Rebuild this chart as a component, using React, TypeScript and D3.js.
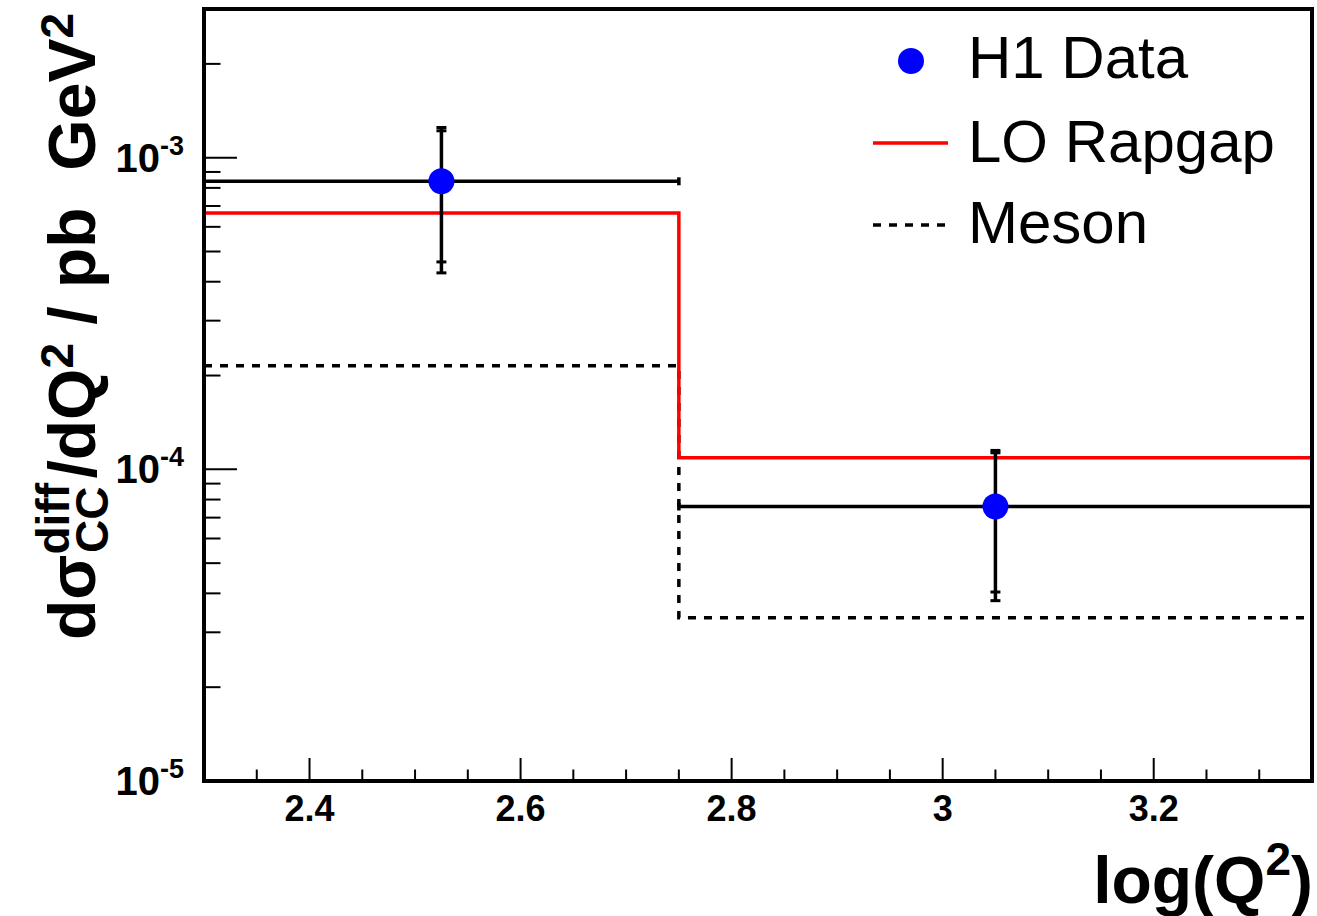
import React from 'react';
import * as d3 from 'd3';

// ---- data ----
const binEdges = [2.3, 2.75, 3.35];
const dataX = [2.525, 3.05];
const dataY = [8.4e-4, 7.6e-5];
const statLow = [4.63e-4, 4.04e-5];
const statHigh = [1.22e-3, 1.13e-4];
const totLow = [4.27e-4, 3.79e-5];
const totHigh = [1.25e-3, 1.15e-4];
const rapgap = [6.65e-4, 1.09e-4];
const meson = [2.15e-4, 3.34e-5];
const xTicks = [2.4, 2.6, 2.8, 3.0, 3.2];
const xTickLabels = ['2.4', '2.6', '2.8', '3', '3.2'];
const yDecades = [-5, -4, -3];

const W = 1317, H = 916;
const L = 204, R = 1312, T = 9, B = 781;
const FONT = "'Liberation Sans', Arial, Helvetica, sans-serif";

export default function App() {
  const x = d3.scaleLinear().domain([2.3, 3.35]).range([L, R]);
  const y = d3.scaleLog().domain([1e-5, 3e-3]).range([B, T]);

  const stepLine = (vals: number[]) =>
    d3.line<[number, number]>()
      .x(d => x(d[0]))
      .y(d => y(d[1]))
      .curve(d3.curveStepAfter)([
        [binEdges[0], vals[0]],
        [binEdges[1], vals[1]],
        [binEdges[2], vals[1]],
      ]) as string;

  const xMinor: number[] = d3.range(2.35, 3.35, 0.05).map(v => +v.toFixed(2));
  const yMinor: number[] = [];
  for (const dec of yDecades) {
    for (let m = 2; m <= 9; m++) {
      const v = m * Math.pow(10, dec);
      if (v <= 3e-3) yMinor.push(v);
    }
  }

  const capW = 5;
  const tf = 66; // y title font
  const sf = 46; // script font
  return (
    <svg width={W} height={H} style={{ position: 'absolute', left: 0, top: 0, background: '#fff' }}
      fontFamily={FONT}>
      <rect x={0} y={0} width={W} height={H} fill="#fff" />
      <path d={stepLine(meson)} fill="none" stroke="#000" strokeWidth={3.5} strokeDasharray="8,8" />
      <path d={stepLine(rapgap)} fill="none" stroke="#ff0000" strokeWidth={3.5} />
      {dataX.map((dx, i) => {
        const cx = x(dx);
        const cy = y(dataY[i]);
        const x0 = x(binEdges[i]);
        const x1 = x(binEdges[i + 1]);
        return (
          <g key={i} stroke="#000" strokeWidth={3.5}>
            <line x1={x0} x2={x1} y1={cy} y2={cy} />
            <line x1={x0} x2={x0} y1={cy - 4} y2={cy + 4} />
            <line x1={x1} x2={x1} y1={cy - 4} y2={cy + 4} />
            <line x1={cx} x2={cx} y1={y(totHigh[i])} y2={y(totLow[i])} />
            {[statLow[i], statHigh[i], totLow[i], totHigh[i]].map((v, k) => (
              <line key={k} x1={cx - capW} x2={cx + capW} y1={y(v)} y2={y(v)} strokeWidth={3} />
            ))}
          </g>
        );
      })}
      {dataX.map((dx, i) => (
        <circle key={'m' + i} cx={x(dx)} cy={y(dataY[i])} r={13} fill="#0000ff" />
      ))}
      <rect x={L} y={T} width={R - L} height={B - T} fill="none" stroke="#000" strokeWidth={4} />
      {xTicks.map(t => (
        <line key={'xt' + t} x1={x(t)} x2={x(t)} y1={B} y2={B - 23} stroke="#000" strokeWidth={2} />
      ))}
      {xMinor.filter(t => !xTicks.some(m => Math.abs(m - t) < 1e-6)).map(t => (
        <line key={'xm' + t} x1={x(t)} x2={x(t)} y1={B} y2={B - 11.5} stroke="#000" strokeWidth={2} />
      ))}
      {xTicks.map((t, i) => (
        <text key={'xl' + t} x={x(t)} y={B + 40} textAnchor="middle" fontSize={36} fontWeight="bold">
          {xTickLabels[i]}
        </text>
      ))}
      {yDecades.map(d => (
        <line key={'yt' + d} x1={L} x2={L + 33} y1={y(Math.pow(10, d))} y2={y(Math.pow(10, d))} stroke="#000" strokeWidth={2} />
      ))}
      {yMinor.map(v => (
        <line key={'ym' + v} x1={L} x2={L + 16.5} y1={y(v)} y2={y(v)} stroke="#000" strokeWidth={2} />
      ))}
      {yDecades.map(d => (
        <text key={'yl' + d} x={184} y={y(Math.pow(10, d)) + 14} textAnchor="end" fontSize={40} fontWeight="bold">
          10<tspan dy={-17} fontSize={27}>{String(d)}</tspan>
        </text>
      ))}
      <text x={1313} y={903} textAnchor="end" fontSize={66} fontWeight="bold">
        log(Q<tspan dy={-28} fontSize={46}>2</tspan><tspan dy={28}>)</tspan>
      </text>
      {/* y title, reading bottom to top */}
      <text transform="translate(95,640) rotate(-90)" fontSize={tf} fontWeight="bold">
        <tspan>dσ</tspan>
        <tspan dy={-26} fontSize={sf}>diff</tspan>
        <tspan dx={-70} dy={39} fontSize={sf}>CC</tspan>
        <tspan dx={8} dy={-13}>/dQ</tspan>
        <tspan dy={-22} fontSize={sf}>2</tspan>
        <tspan dy={22}>{'\u00a0/\u00a0pb\u00a0\u00a0GeV'}</tspan>
        <tspan dy={-22} fontSize={sf}>2</tspan>
      </text>
      {/* legend */}
      <circle cx={911} cy={61} r={13} fill="#0000ff" />
      <text x={968} y={78} fontSize={60}>H1 Data</text>
      <line x1={873} x2={948} y1={143} y2={143} stroke="#ff0000" strokeWidth={3.5} />
      <text x={968} y={162} fontSize={60}>LO Rapgap</text>
      <line x1={873} x2={946} y1={225} y2={225} stroke="#000" strokeWidth={3.5} strokeDasharray="8,8" />
      <text x={968} y={243} fontSize={60}>Meson</text>
    </svg>
  );
}
